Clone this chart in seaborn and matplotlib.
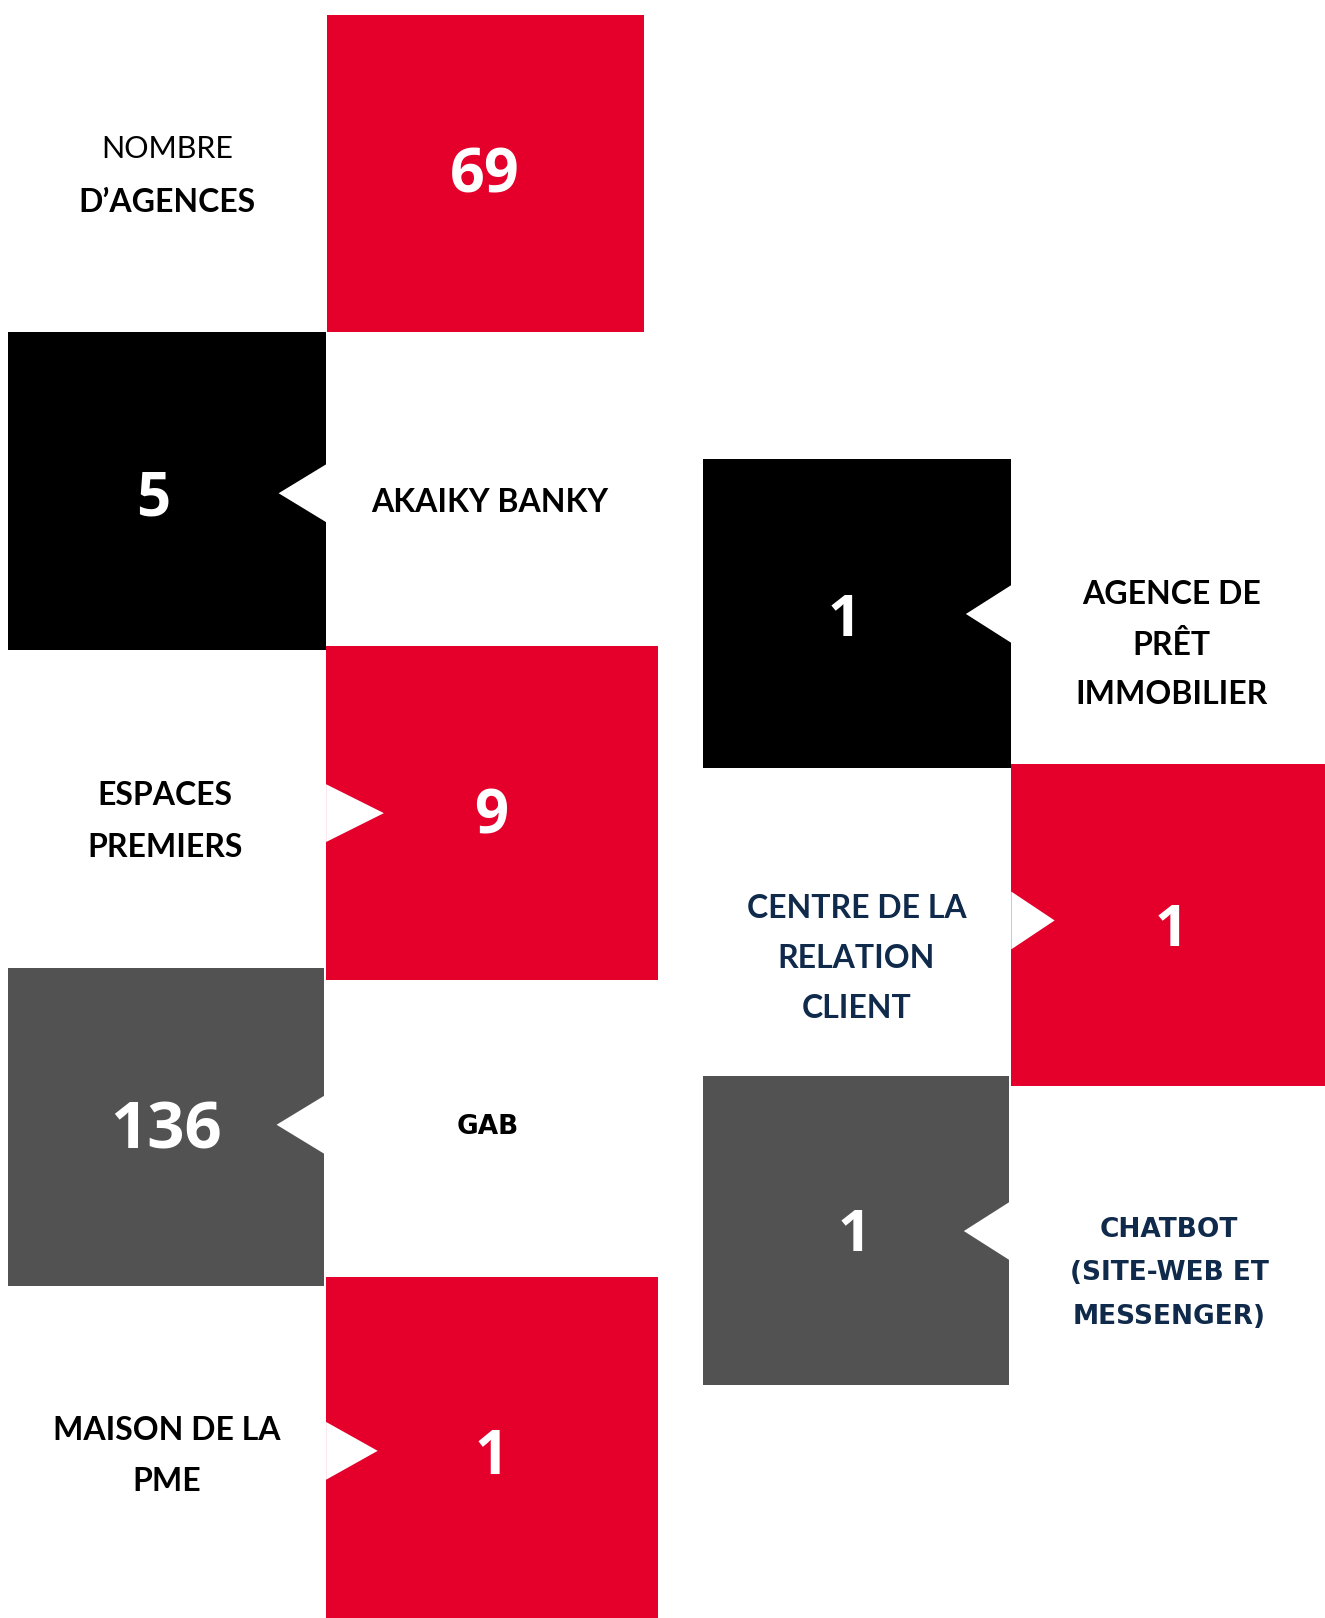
import matplotlib
matplotlib.use("Agg")
import matplotlib.pyplot as plt
from matplotlib.patches import Polygon
import seaborn as sns

# values and labels of the infographic
values = [69, 5, 9, 136, 1, 1, 1, 1]
labels = [
    ["NOMBRE", "D’AGENCES"],
    ["AKAIKY BANKY"],
    ["ESPACES", "PREMIERS"],
    ["GAB"],
    ["MAISON DE LA", "PME"],
    ["AGENCE DE", "PRÊT", "IMMOBILIER"],
    ["CENTRE DE LA", "RELATION", "CLIENT"],
    ["CHATBOT", "(SITE-WEB ET", "MESSENGER)"],
]
box_colors = ["red", "black", "red", "gray", "red", "black", "red", "gray"]
label_colors = ["black", "black", "black", "black", "black", "black", "navy", "navy"]

# layout (in the 1284 x 1568 reference grid)
boxes = [  # x0, x1, y0, y1, notch side
    (317, 624, 15, 322, None),
    (8, 316, 322, 630, "right"),
    (316, 638, 626, 950, "left"),
    (8, 314, 938, 1246, "right"),
    (316, 638, 1238, 1568, "left"),
    (681, 980, 445, 744, "right"),
    (980, 1284, 740, 1052, "left"),
    (681, 978, 1043, 1342, "right"),
]
notch_tip = [None, (270, 478), (372, 788), (268, 1090), (366, 1406),
             (936, 595), (1022, 892), (934, 1193)]
notch_half = 28
number_pos = [(470, 172), (148, 485), (476, 793), (161, 1097), (476, 1413),
              (818, 602), (1135, 902), (828, 1198)]
number_size = [44, 43, 43, 47, 43, 42, 42, 42]
label_pos = [(162, 170), (475, 487), (160, 796), (473, 1092), (162, 1411),
             (1135, 625), (830, 929), (1133, 1234)]
label_gap = [52, 0, 50, 0, 50, 48.5, 48.5, 42]

palette = {"red": "#E4002B", "black": "#000000", "gray": "#525252",
           "navy": "#0F2A4A"}

sns.set_theme(style="white")
plt.rcParams["font.family"] = ["Lato", "DejaVu Sans"]

fig = plt.figure(figsize=(13.25, 16.18), dpi=100)
ax = fig.add_axes([0, 0, 1, 1])
ax.set_xlim(0, 1284)
ax.set_ylim(1568, 0)
ax.axis("off")

# squares as bars
for i, (x0, x1, y0, y1, side) in enumerate(boxes):
    ax.bar((x0 + x1) / 2, y1 - y0, bottom=y0, width=x1 - x0,
           color=palette[box_colors[i]], linewidth=0, zorder=1)
    if side is not None:
        tx, ty = notch_tip[i]
        edge = x1 if side == "right" else x0
        tri = Polygon([(edge, ty - notch_half), (tx, ty), (edge, ty + notch_half)],
                      closed=True, facecolor="white", edgecolor="none", zorder=2)
        ax.add_patch(tri)

# numbers
for i, v in enumerate(values):
    x, y = number_pos[i]
    ax.text(x, y, str(v), ha="center", va="center", color="white",
            fontsize=number_size[i], fontweight="bold",
            family=["Open Sans", "DejaVu Sans"], zorder=3)

# labels
for i, lines in enumerate(labels):
    cx, cy = label_pos[i]
    n = len(lines)
    for j, line in enumerate(lines):
        y = cy + (j - (n - 1) / 2) * label_gap[i]
        weight = "bold"
        size = 23
        fam = ["Lato", "DejaVu Sans"]
        if i == 0 and j == 0:
            weight = "normal"
            size = 22
        if i in (3, 7):
            size = 19
            fam = ["DejaVu Sans"]
        ax.text(cx, y, line, ha="center", va="center",
                color=palette[label_colors[i]], fontsize=size, fontweight=weight,
                family=fam, zorder=3)

fig.savefig("out.png", dpi=100, facecolor="white")
plt.close(fig)
